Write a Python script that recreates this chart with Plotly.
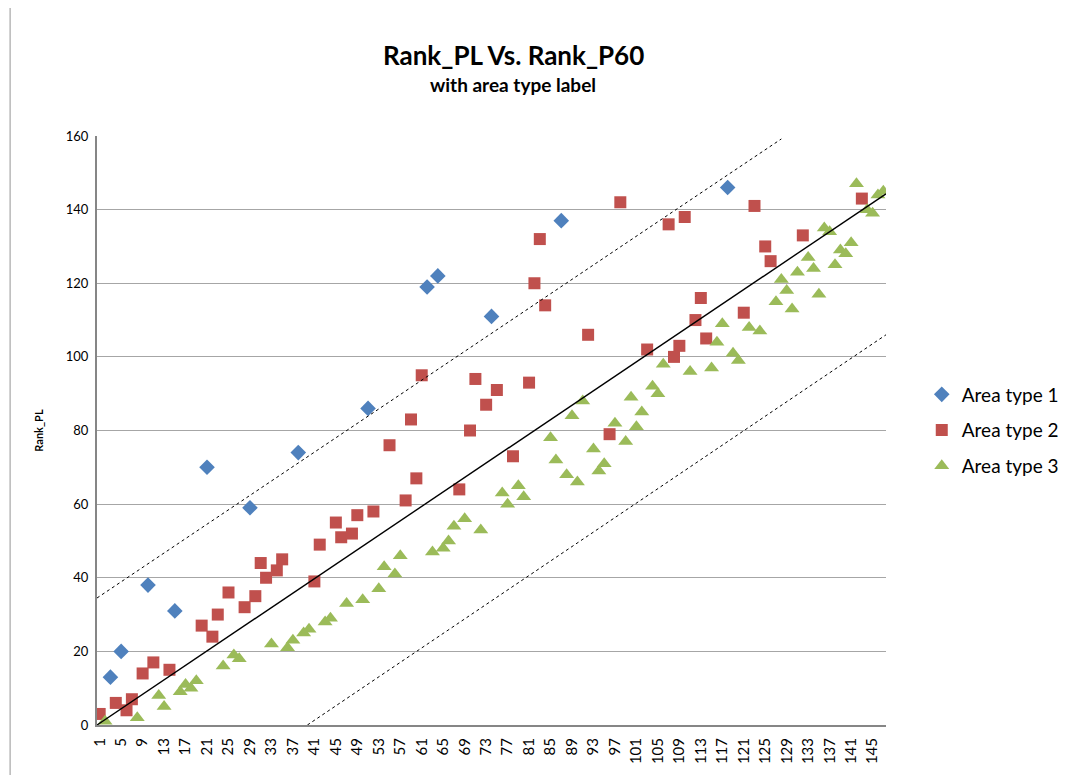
import plotly.graph_objects as go

# rank P60 (category position) and rank PL for each area type
type1_x = [3, 5, 10, 15, 21, 29, 38, 51, 62, 64, 74, 87, 118]
type1_y = [13, 20, 38, 31, 70, 59, 74, 86, 119, 122, 111, 137, 146]

type2_x = [1, 4, 6, 7, 9, 11, 14, 20, 22, 23, 25, 28, 30, 31, 32, 34, 35, 41, 42, 45,
           46, 48, 49, 52, 55, 58, 59, 60, 61, 68, 70, 71, 73, 75, 78, 81, 82, 83, 84,
           92, 96, 98, 103, 107, 108, 109, 110, 112, 113, 114, 121, 123, 125, 126, 132, 143]
type2_y = [3, 6, 4, 7, 14, 17, 15, 27, 24, 30, 36, 32, 35, 44, 40, 42, 45, 39, 49, 55,
           51, 52, 57, 58, 76, 61, 83, 67, 95, 64, 80, 94, 87, 91, 73, 93, 120, 132, 114,
           106, 79, 142, 102, 136, 100, 103, 138, 110, 116, 105, 112, 141, 130, 126, 133, 143]

type3_x = [2, 8, 12, 13, 16, 17, 18, 19, 24, 26, 27, 33, 36, 37, 39, 40, 43, 44, 47, 50,
           53, 54, 56, 57, 63, 65, 66, 67, 69, 72, 76, 77, 79, 80, 85, 86, 88, 89, 90, 91,
           93, 94, 95, 97, 99, 100, 101, 102, 104, 105, 106, 111, 115, 116, 117, 119, 120,
           122, 124, 127, 128, 129, 130, 131, 133, 134, 135, 136, 137, 138, 139, 140, 141,
           142, 144, 145, 146, 147]
type3_y = [1, 2, 8, 5, 9, 11, 10, 12, 16, 19, 18, 22, 21, 23, 25, 26, 28, 29, 33, 34,
           37, 43, 41, 46, 47, 48, 50, 54, 56, 53, 63, 60, 65, 62, 78, 72, 68, 84, 66, 88,
           75, 69, 71, 82, 77, 89, 81, 85, 92, 90, 98, 96, 97, 104, 109, 101, 99,
           108, 107, 115, 121, 118, 113, 123, 127, 124, 117, 135, 134, 125, 129, 128, 131,
           147, 140, 139, 144, 145]

# reference lines (end points)
fit_x = [0.5, 147.5]
fit_y = [0, 144.3]
upper_x = [0.5, 128]
upper_y = [34.5, 159.2]
lower_x = [39.7, 147.5]
lower_y = [0, 106]

tick_vals = list(range(1, 147, 4))

font_name = "Lato, 'Open Sans', sans-serif"

fig = go.Figure()

fig.add_trace(go.Scatter(
    x=type1_x, y=type1_y, mode="markers", name="Area type 1", legendgroup="a1",
    marker=dict(symbol="diamond", size=12, color="#4F81BD"),
))
fig.add_trace(go.Scatter(
    x=type2_x, y=type2_y, mode="markers", name="Area type 2", legendgroup="a2",
    marker=dict(symbol="square", size=12, color="#C0504D"),
))
fig.add_trace(go.Scatter(
    x=type3_x, y=type3_y, mode="markers", name="Area type 3", legendgroup="a3",
    marker=dict(symbol="triangle-up", size=13, color="#9BBB59"),
))

fig.add_trace(go.Scatter(x=fit_x, y=fit_y, mode="lines", showlegend=False,
                         line=dict(color="black", width=1.4), hoverinfo="skip"))
fig.add_trace(go.Scatter(x=upper_x, y=upper_y, mode="lines", showlegend=False,
                         line=dict(color="black", width=1, dash="dot"), hoverinfo="skip"))
fig.add_trace(go.Scatter(x=lower_x, y=lower_y, mode="lines", showlegend=False,
                         line=dict(color="black", width=1, dash="dot"), hoverinfo="skip"))

# page body adds an 8px offset, so margins are shifted to keep the plot area in place
fig.update_layout(
    width=1067, height=775,
    margin=dict(l=89, r=188, t=128, b=58),
    paper_bgcolor="white", plot_bgcolor="white",
    font=dict(family=font_name, color="black"),
    annotations=[
        dict(text="<b>Rank_PL Vs. Rank_P60</b>", xref="paper", yref="paper",
             x=0.528, y=1.1375, xanchor="center", yanchor="middle", showarrow=False,
             font=dict(size=26, family=font_name)),
        dict(text="<b>with area type label</b>", xref="paper", yref="paper",
             x=0.527, y=1.0866, xanchor="center", yanchor="middle", showarrow=False,
             font=dict(size=19, family=font_name)),
    ],
    legend=dict(x=1.044, xanchor="left", y=0.5, yanchor="middle",
                font=dict(size=19, family=font_name), tracegroupgap=8,
                bgcolor="rgba(0,0,0,0)"),
    shapes=[dict(type="rect", xref="paper", yref="paper",
                 x0=(10 - 97) / 790, x1=(1080 - 97) / 790,
                 y0=(725 - 790) / 589, y1=(725 - 7) / 589,
                 line=dict(color="#A6A6A6", width=1.2), layer="below")],
)

fig.update_xaxes(
    range=[0.5, 147.5], tickmode="array", tickvals=tick_vals,
    ticktext=[str(v) for v in tick_vals], tickangle=-90,
    tickfont=dict(size=15, family=font_name), ticklabelstandoff=5,
    showgrid=False, zeroline=False,
    showline=True, linecolor="#868686", linewidth=2,
    ticks="",
)
fig.update_yaxes(
    range=[0, 160], dtick=20,
    tickfont=dict(size=13, family=font_name), ticklabelstandoff=4,
    showgrid=True, gridcolor="#A6A6A6", gridwidth=1,
    zeroline=False, showline=True, linecolor="#868686", linewidth=2,
    title=dict(text="<b>Rank_PL</b>", font=dict(size=11, family=font_name), standoff=20),
    ticks="",
)

fig.write_html("out.html")
